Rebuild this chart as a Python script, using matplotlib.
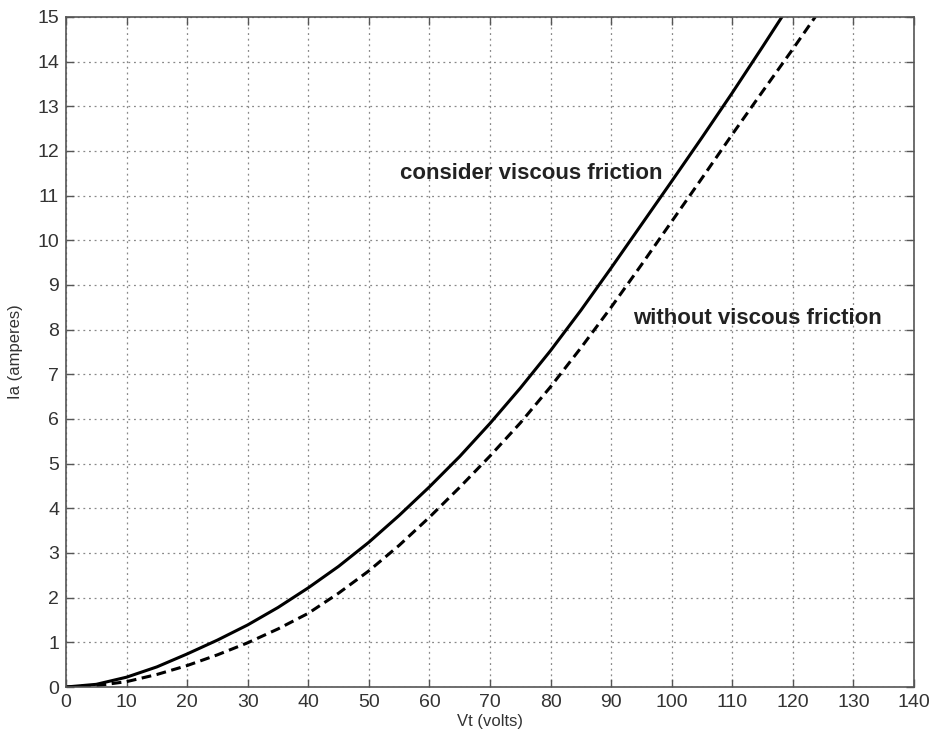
import matplotlib
matplotlib.use("Agg")
import matplotlib.pyplot as plt

# Armature current vs terminal voltage, with and without viscous friction
vt_visc = [0, 5, 10, 15, 20, 25, 30, 35, 40, 45, 50, 55, 60, 65, 70, 75,
           80, 85, 90, 95, 100, 105, 110, 115, 118.2]
ia_visc = [0, 0.06, 0.22, 0.45, 0.74, 1.05, 1.39, 1.78, 2.22, 2.70, 3.24,
           3.84, 4.48, 5.16, 5.90, 6.69, 7.53, 8.43, 9.38, 10.35, 11.32,
           12.30, 13.30, 14.33, 15.0]

vt_novisc = [0, 5, 10, 15, 20, 25, 30, 35, 40, 45, 50, 55, 60, 65, 70, 75,
             80, 85, 90, 95, 100, 105, 110, 115, 120, 123.7]
ia_novisc = [0, 0.03, 0.12, 0.28, 0.48, 0.72, 0.99, 1.30, 1.65, 2.10, 2.60,
             3.17, 3.80, 4.47, 5.17, 5.91, 6.72, 7.59, 8.50, 9.45, 10.42,
             11.39, 12.37, 13.33, 14.28, 15.0]

x_ticks = list(range(0, 141, 10))
y_ticks = list(range(0, 16, 1))

plt.rcParams["font.family"] = ["Liberation Sans", "DejaVu Sans"]

fig = plt.figure(figsize=(9.35, 7.38), dpi=100)
ax = fig.add_axes([0.0706, 0.0691, 0.9069, 0.908])

ax.plot(vt_visc, ia_visc, color="black", linewidth=2.2, linestyle="-")
ax.plot(vt_novisc, ia_novisc, color="black", linewidth=2.2,
        linestyle=(0, (3.2, 1.8)))

ax.text(55.1, 11.5, "consider viscous friction", fontsize=16,
        fontweight="bold", color="#222222", va="center", ha="left")
ax.text(93.6, 8.26, "without viscous friction", fontsize=16,
        fontweight="bold", color="#222222", va="center", ha="left")

ax.set_xlim(0, 140)
ax.set_ylim(0, 15)
ax.set_xticks(x_ticks)
ax.set_yticks(y_ticks)
ax.tick_params(direction="in", top=True, right=True, length=6,
               width=1.0, color="#555555", labelsize=14, labelcolor="#333333",
               pad=5)
ax.grid(True, color="#888888", linestyle=(0, (1.5, 3)), linewidth=0.9)
for sp in ax.spines.values():
    sp.set_color("#555555")
    sp.set_linewidth(1.2)

ax.set_xlabel("Vt (volts)", fontsize=12, color="#333333", labelpad=2)
ax.set_ylabel("Ia (amperes)", fontsize=12, color="#333333", labelpad=10)

fig.savefig("out.png", dpi=100)
